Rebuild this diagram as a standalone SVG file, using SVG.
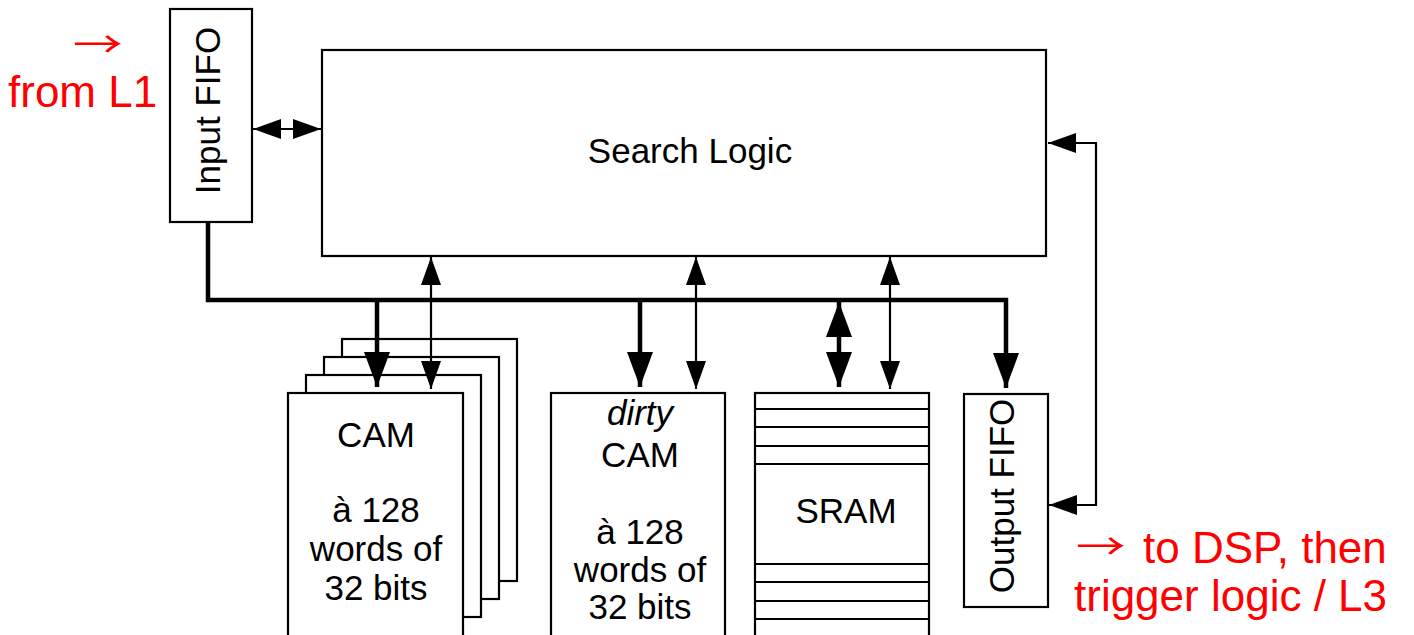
<svg xmlns="http://www.w3.org/2000/svg" width="1414" height="635" viewBox="0 0 1414 635">
<style>
.box{fill:#fff;stroke:#000;stroke-width:2.2}
.t{font-family:"Liberation Sans",Arial,sans-serif;font-size:35px;fill:#000;text-anchor:middle}
.red{font-family:"Liberation Sans",Arial,sans-serif;font-size:44px;fill:#ff0000}
.arr{font-family:"Noto Sans CJK JP","DejaVu Sans",sans-serif;font-size:36px;fill:#ff0000}
.thin{fill:none;stroke:#000;stroke-width:2.2}
.thick{fill:none;stroke:#000;stroke-width:4.5}
.line{fill:none;stroke:#000;stroke-width:2}
</style>
<defs>
<marker id="ah" markerUnits="userSpaceOnUse" viewBox="0 0 28 20" markerWidth="28" markerHeight="20" refX="28" refY="10" orient="auto-start-reverse"><path d="M0,0 L28,10 L0,20 z" fill="#000"/></marker>
<marker id="ahb" markerUnits="userSpaceOnUse" viewBox="0 0 35 26" markerWidth="35" markerHeight="26" refX="35" refY="13" orient="auto-start-reverse"><path d="M0,0 L35,13 L0,26 z" fill="#000"/></marker>
</defs>
<rect width="1414" height="635" fill="#fff"/>

<g id="label-from-l1">
<text class="arr" transform="translate(73,58) scale(1.38,1)">→</text>
<text class="red" x="8" y="107">from L1</text>
</g>

<g id="input-fifo">
<rect class="box" x="170" y="9" width="82" height="213"/>
<text class="t" transform="translate(220,110.5) rotate(-90)">Input FIFO</text>
</g>

<g id="search-logic">
<rect class="box" x="322" y="50" width="724" height="206"/>
<text class="t" x="690" y="163">Search Logic</text>
</g>

<g id="cam">
<rect class="box" x="342" y="339" width="175" height="242"/>
<rect class="box" x="324" y="357" width="175" height="242"/>
<rect class="box" x="306" y="375" width="175" height="242"/>
<rect class="box" x="288" y="393" width="175" height="244"/>
<text class="t" x="376" y="447">CAM</text>
<text class="t" x="376" y="522">à 128</text>
<text class="t" x="376" y="561">words of</text>
<text class="t" x="376" y="600">32 bits</text>
</g>

<g id="dirty-cam">
<rect class="box" x="551" y="393" width="174" height="244"/>
<text class="t" x="640" y="425" font-style="italic">dirty</text>
<text class="t" x="640" y="467">CAM</text>
<text class="t" x="640" y="544">à 128</text>
<text class="t" x="640" y="582">words of</text>
<text class="t" x="640" y="619">32 bits</text>
</g>

<g id="sram">
<rect class="box" x="755" y="393" width="174" height="244"/>
<path class="line" d="M755,409 H929 M755,427 H929 M755,446 H929 M755,464 H929 M755,564 H929 M755,582 H929 M755,601 H929 M755,619 H929"/>
<text class="t" x="846" y="523">SRAM</text>
</g>

<g id="output-fifo">
<rect class="box" x="964" y="394" width="84" height="213"/>
<text class="t" transform="translate(1014,496) rotate(-90)">Output FIFO</text>
</g>

<g id="label-to-dsp">
<text class="arr" transform="translate(1076,560) scale(1.38,1)">→</text>
<text class="red"><tspan x="1143" y="563">to DSP, then</tspan><tspan x="1074" y="611">trigger logic / L3</tspan></text>
</g>

<g id="connectors">
<path class="thin" d="M253,129 H321" marker-start="url(#ah)" marker-end="url(#ah)"/>
<path class="thick" d="M208,222 V300 H1006 V388" marker-end="url(#ahb)"/>
<path class="thick" d="M377,300 V387" marker-end="url(#ahb)"/>
<path class="thick" d="M640,300 V387" marker-end="url(#ahb)"/>
<path class="thick" d="M839,302 V387" marker-start="url(#ahb)" marker-end="url(#ahb)"/>
<path class="thin" d="M431,257 V389" marker-start="url(#ah)" marker-end="url(#ah)"/>
<path class="thin" d="M696,257 V389" marker-start="url(#ah)" marker-end="url(#ah)"/>
<path class="thin" d="M890,257 V389" marker-start="url(#ah)" marker-end="url(#ah)"/>
<path class="thin" d="M1048,143 H1096 V505 H1049" marker-start="url(#ah)" marker-end="url(#ah)"/>
</g>
</svg>
